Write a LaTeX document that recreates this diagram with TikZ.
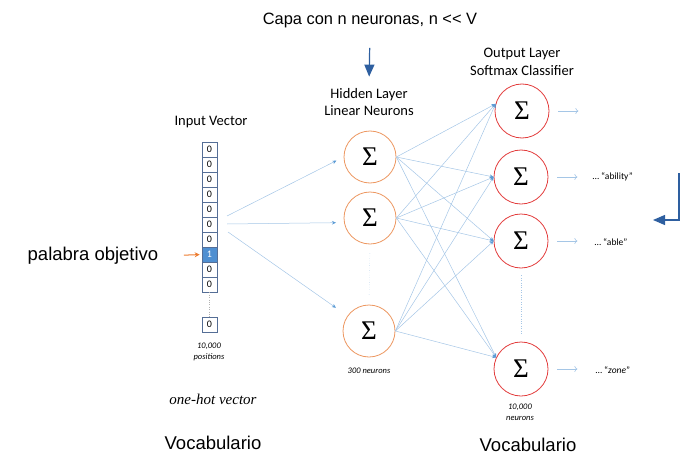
\documentclass[tikz,border=0pt]{standalone}
\usepackage{fontspec}
\setmainfont{Carlito}
\newfontfamily\arial{Liberation Sans}
\newfontfamily\bookserif{Liberation Serif}
\usetikzlibrary{arrows.meta}

\definecolor{linkblue}{RGB}{165,198,230}
\definecolor{tipblue}{RGB}{91,155,213}
\definecolor{darkblue}{RGB}{46,95,160}
\definecolor{hidorange}{RGB}{236,150,95}
\definecolor{outred}{RGB}{226,60,60}
\definecolor{cellline}{RGB}{85,110,150}
\definecolor{hotblue}{RGB}{79,143,209}
\definecolor{pointer}{RGB}{237,125,49}

\tikzset{
  cell/.style={draw=cellline, line width=0.6pt, minimum width=15pt, minimum height=15pt,
    inner sep=0pt, font=\fontsize{10}{10}\selectfont},
  hot/.style={fill=hotblue, text=white},
  hidden/.style={circle, draw=hidorange, line width=0.8pt, minimum size=52pt, inner sep=0pt,
    font=\bookserif\fontsize{27}{27}\selectfont},
  output/.style={hidden, draw=outred, minimum size=54pt},
  link/.style={draw=linkblue, line width=0.5pt, -{Stealth[length=4pt,width=3.5pt,color=tipblue]}},
  outlink/.style={draw=linkblue, line width=0.6pt, -{To[length=3pt,width=6pt]}},
  bigarrow/.style={draw=darkblue, line width=1.2pt, -{Triangle[length=12pt,width=10pt]}},
  label/.style={align=center, font=\fontsize{14.5}{17.5}\selectfont},
  tiny/.style={align=center, font=\fontsize{8.5}{11}\selectfont\itshape},
  spanish/.style={font=\arial\fontsize{18.5}{18.5}\selectfont},
  word/.style={anchor=west, font=\fontsize{9.5}{9.5}\selectfont}
}

\begin{document}
\begin{tikzpicture}[x=1pt,y=-1pt]
    \useasboundingbox (0,0) rectangle (692,468);

    % titles
    \node[font=\arial\fontsize{16.4}{16.4}\selectfont] (title) at (370,20) {Capa con n neuronas, n <{}< V};
    \node[label] (inlab) at (211,122) {Input Vector};
    \node[label] (hidlab) at (369,102) {Hidden Layer\\Linear Neurons};
    \node[label] (outlab) at (522,62) {Output Layer\\Softmax Classifier};

    % one-hot input vector
    \foreach \i in {0,...,9} {
        \ifnum\i=7
            \node[cell,hot] (c\i) at (209.5,149.5+15*\i) {1};
        \else
            \node[cell] (c\i) at (209.5,149.5+15*\i) {0};
        \fi
    }
    \node[cell] (cN) at (209.5,324.5) {0};
    \draw[gray!60, dotted] (c9.south) -- (cN.north);
    \node[tiny] (poslab) at (209,352) {10,000\\positions};
    \node[font=\bookserif\itshape\fontsize{15}{15}\selectfont] (onehot) at (213,399) {one-hot vector};

    % hidden layer
    \node[hidden] (h1) at (370,157) {Σ};
    \node[hidden] (h2) at (370,218) {Σ};
    \node[hidden] (h3) at (369,331) {Σ};
    \draw[linkblue, dotted, shorten <=9pt, shorten >=10pt] (h2.south) -- (h3.north);
    \node[tiny] (hidcount) at (369,371) {300 neurons};

    % output layer
    \node[output] (o1) at (522,111) {Σ};
    \node[output] (o2) at (521,177) {Σ};
    \node[output] (o3) at (521,241) {Σ};
    \node[output] (o4) at (521,369) {Σ};
    \draw[linkblue, dotted, shorten <=7pt, shorten >=7pt] (o3.south) -- (o4.north);
    \node[tiny] (outcount) at (520,412) {10,000\\neurons};

    % input to hidden
    \coordinate (s1) at (227,216);
    \coordinate (s2) at (227,224);
    \coordinate (s3) at (228,232);
    \draw[link, shorten >=8pt] (s1) -- (h1.west);
    \draw[link, shorten >=8pt] (s2) -- (h2.190);
    \draw[link, shorten >=14pt] (s3) -- (h3);

    % hidden to output
    \foreach \h in {1,2,3} {
        \draw[link] (h\h.east) -- (o1.165);
        \draw[link] (h\h.east) -- (o2.west);
        \draw[link] (h\h.east) -- (o3.west);
        \draw[link] (h\h.east) -- (o4.155);
    }

    % output words
    \node[word] (w2) at (589,177) {… “ability”};
    \node[word] (w3) at (591,242) {… “able”};
    \node[word] (w4) at (592,370) {… “\textit{zone}”};
    \foreach \o in {1,...,4}
        \draw[outlink] ([xshift=9pt]o\o.east) -- ([xshift=29pt]o\o.east);

    % target word
    \node[spanish] (pal) at (93,256) {palabra objetivo};
    \draw[pointer, line width=1pt, -{Stealth[length=5pt,width=5pt]}, shorten <=22pt, shorten >=2pt] (pal.east) -- (c7.west);

    \node[spanish] (voc1) at (213,443) {Vocabulario};
    \node[spanish] (voc2) at (528,445) {Vocabulario};

    % blue pointers
    \draw[bigarrow, shorten <=17pt, shorten >=8pt] (title.south) -- (hidlab.north);
    \coordinate (r1) at (679,173);
    \coordinate (r2) at (653,220);
    \draw[bigarrow] (r1) |- (r2);
\end{tikzpicture}
\end{document}
